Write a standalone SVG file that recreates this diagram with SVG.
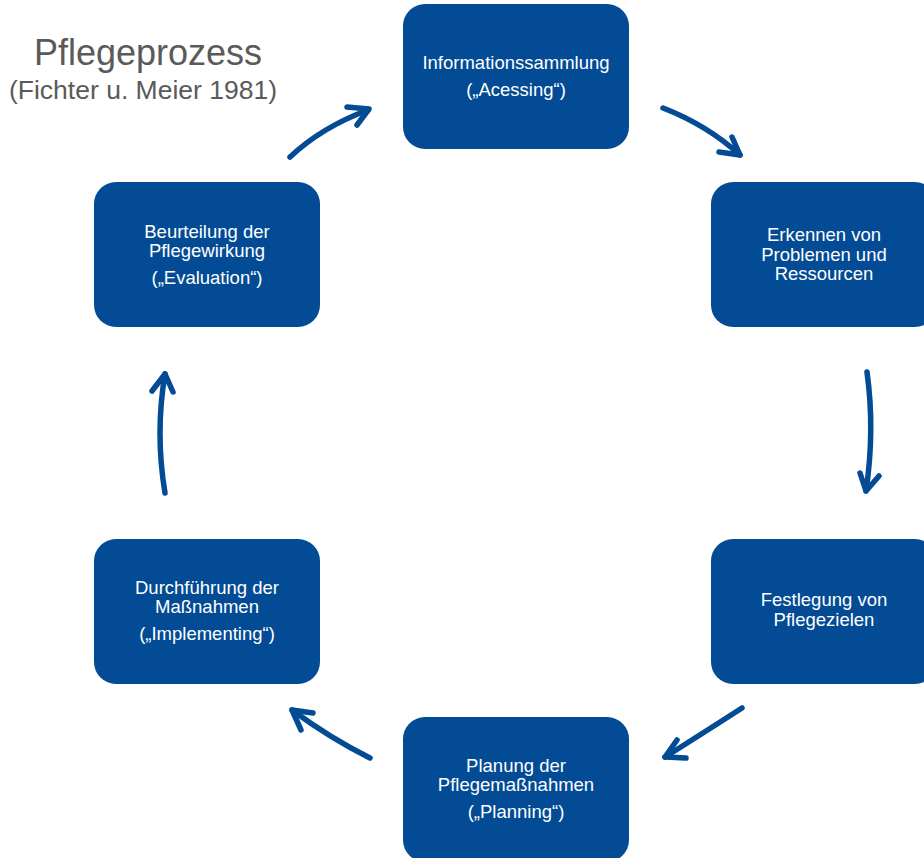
<svg xmlns="http://www.w3.org/2000/svg" width="924" height="858" viewBox="0 0 924 858">
<style>
.box{fill:#034b95;}
.t{font-family:"Liberation Sans",Arial,sans-serif;font-size:18.5px;fill:#ffffff;text-anchor:middle;}
.ttl{font-family:"Liberation Sans",Arial,sans-serif;fill:#5a5a5a;}
.arr{fill:none;stroke:#034b95;stroke-width:5.5;stroke-linecap:round;stroke-linejoin:round;}
</style>
<rect width="924" height="858" fill="#ffffff"/>
<g id="title">
<text class="ttl" x="148" y="65" font-size="36" text-anchor="middle">Pflegeprozess</text>
<text class="ttl" x="143" y="99" font-size="26.5" text-anchor="middle">(Fichter u. Meier 1981)</text>
</g>
<g id="n1">
<rect class="box" x="403" y="4" width="226" height="145" rx="22"/>
<text class="t" x="516" y="69">Informationssammlung</text>
<text class="t" x="516" y="96">(„Acessing“)</text>
</g>
<g id="n2">
<rect class="box" x="711" y="182" width="226" height="145" rx="22"/>
<text class="t" x="824" y="241">Erkennen von</text>
<text class="t" x="824" y="261">Problemen und</text>
<text class="t" x="824" y="280">Ressourcen</text>
</g>
<g id="n3">
<rect class="box" x="711" y="539" width="226" height="145" rx="22"/>
<text class="t" x="824" y="606">Festlegung von</text>
<text class="t" x="824" y="626">Pflegezielen</text>
</g>
<g id="n4">
<rect class="box" x="403" y="717" width="226" height="145" rx="22"/>
<text class="t" x="516" y="772">Planung der</text>
<text class="t" x="516" y="791">Pflegemaßnahmen</text>
<text class="t" x="516" y="818">(„Planning“)</text>
</g>
<g id="n5">
<rect class="box" x="94" y="539" width="226" height="145" rx="22"/>
<text class="t" x="207" y="594">Durchführung der</text>
<text class="t" x="207" y="613">Maßnahmen</text>
<text class="t" x="207" y="640">(„Implementing“)</text>
</g>
<g id="n6">
<rect class="box" x="94" y="182" width="226" height="145" rx="22"/>
<text class="t" x="207" y="238">Beurteilung der</text>
<text class="t" x="207" y="257">Pflegewirkung</text>
<text class="t" x="207" y="284">(„Evaluation“)</text>
</g>
<g id="connectors">
<path class="arr" d="M290,157 Q322,127 368,110"/>
<polyline class="arr" points="347,107 369,109 357,125"/>
<path class="arr" d="M663,108 Q707,125 740,155"/>
<polyline class="arr" points="732,137 740,155 719,152"/>
<path class="arr" d="M867,372 Q875,430 866,491"/>
<polyline class="arr" points="860,473 866,491 879,476"/>
<path class="arr" d="M742,708 Q700,735 665,757"/>
<polyline class="arr" points="677,740 665,757 686,758"/>
<path class="arr" d="M370,758 Q330,738 292,710"/>
<polyline class="arr" points="301,730 292,710 313,713"/>
<path class="arr" d="M165,493 Q155,433 165,374"/>
<polyline class="arr" points="152,391 165,374 173,392"/>
</g>
</svg>
